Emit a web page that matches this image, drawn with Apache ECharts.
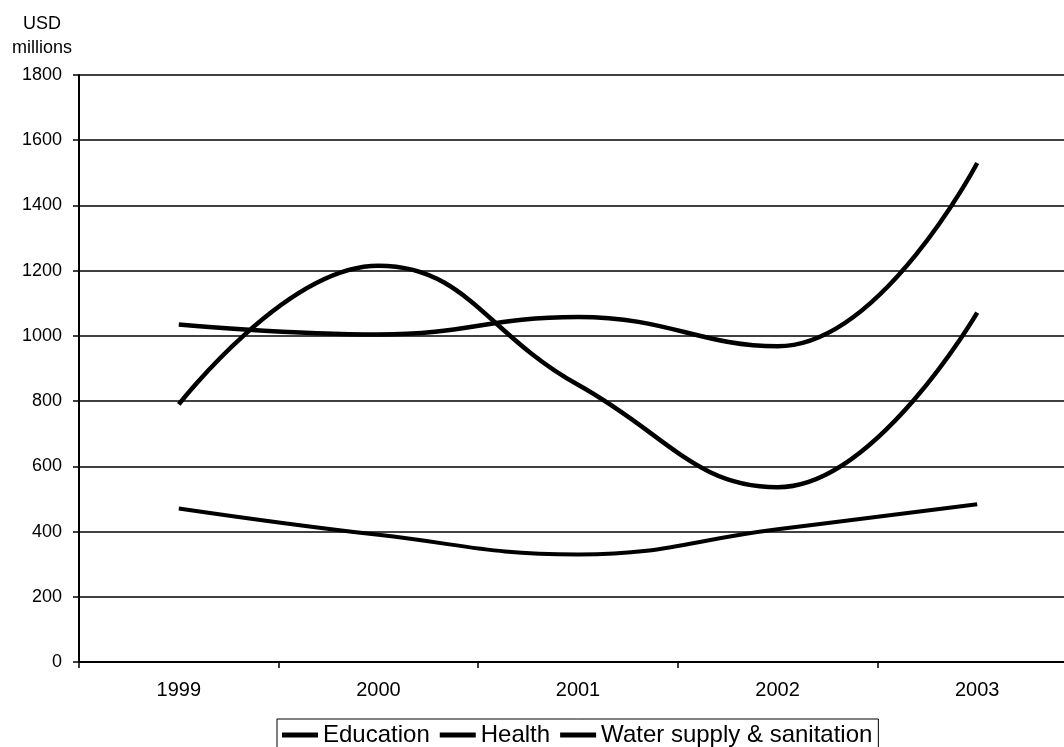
<!DOCTYPE html>
<html><head><meta charset="utf-8">
<script src="https://cdn.jsdelivr.net/npm/echarts@6/dist/echarts.min.js"></script>
<style>html,body{margin:0;padding:0;background:#fff;overflow:hidden;width:1064px;height:747px}#c{width:1080px;height:747px}</style>
</head><body><div id="c"></div>
<script>
const categories = ['1999','2000','2001','2002','2003'];
const education = [1035, 1004, 1058, 968, 1530];
const health = [790, 1215, 850, 536, 1071];
const water = [471, 390, 330, 407, 484];
const yTicks = {min: 0, max: 1800, interval: 200};
const unitLines = ['USD', 'millions'];

const chart = echarts.init(document.getElementById('c'));
const font = 'Liberation Sans, Arial, sans-serif';
function line(name, data, w) {
  return {name, type: 'line', data, smooth: 0.45, symbol: 'none',
    lineStyle: {color: '#000', width: w}, itemStyle: {color: '#000'}};
}
chart.setOption({
  animation: false,
  grid: {left: 79, top: 75, width: 998, height: 587},
  graphic: unitLines.map((t, i) => ({type: 'text', x: 42, y: 15 + i * 24,
    style: {text: t, font: '18px ' + font, fill: '#000', align: 'center', verticalAlign: 'top'}})),
  xAxis: {type: 'category', data: categories, boundaryGap: true,
    axisLine: {lineStyle: {color: '#000', width: 2}},
    axisTick: {show: true, length: 6, lineStyle: {color: '#000', width: 1.5}},
    axisLabel: {color: '#000', fontFamily: font, fontSize: 20, margin: 18}},
  yAxis: {type: 'value', min: yTicks.min, max: yTicks.max, interval: yTicks.interval,
    axisLine: {show: true, lineStyle: {color: '#000', width: 2}},
    axisTick: {show: true, length: 6, lineStyle: {color: '#000', width: 1.5}},
    splitLine: {lineStyle: {color: '#000', width: 1.5}},
    axisLabel: {color: '#000', fontFamily: font, fontSize: 18, margin: 17, formatter: v => String(v)}},
  legend: {left: 277, top: 719, padding: [4, 6, 3, 5],
    borderColor: '#000', borderWidth: 1, itemGap: 10,
    icon: 'rect', itemWidth: 36, itemHeight: 5,
    textStyle: {fontFamily: font, fontSize: 24, color: '#000'},
    data: ['Education', 'Health', 'Water supply & sanitation']},
  series: [line('Education', education, 4.5), line('Health', health, 4.5), line('Water supply & sanitation', water, 4)]
});
</script></body></html>
